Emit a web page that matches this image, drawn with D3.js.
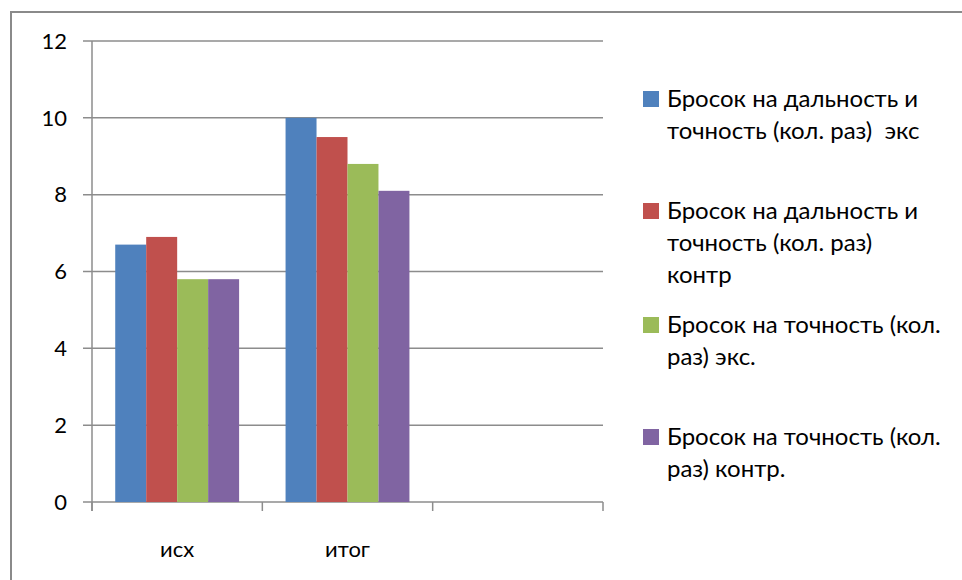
<!DOCTYPE html>
<html>
<head>
<meta charset="utf-8">
<script src="https://cdn.jsdelivr.net/npm/d3@7"></script>
<style>
  html, body { margin: 0; padding: 0; background: #fff; }
  svg { display: block; }
  text { font-family: Lato, "Open Sans", sans-serif; fill: #000; }
</style>
</head>
<body>
<svg id="chart" width="962" height="580"></svg>
<script>
// Categories on the x axis (the third slot is empty)
const categories = ["исх", "итог", ""];
// Series names
const seriesNames = [
  "Бросок на дальность и точность (кол. раз)  экс",
  "Бросок на дальность и точность (кол. раз) контр",
  "Бросок на точность (кол. раз) экс.",
  "Бросок на точность (кол. раз) контр."
];
// Legend label lines as wrapped in the legend
const legendLines = [
  ["Бросок на дальность и", "точность (кол. раз)  экс"],
  ["Бросок на дальность и", "точность (кол. раз)", "контр"],
  ["Бросок на точность (кол.", "раз) экс."],
  ["Бросок на точность (кол.", "раз) контр."]
];
// Values per series, one per category (исх, итог)
const seriesA = [6.7, 10.0];
const seriesB = [6.9, 9.5];
const seriesC = [5.8, 8.8];
const seriesD = [5.8, 8.1];
const seriesValues = [seriesA, seriesB, seriesC, seriesD];
const colors = ["#4f81bd", "#c0504d", "#9bbb59", "#8064a2"];
const yTicks = [0, 2, 4, 6, 8, 10, 12];

const svg = d3.select("#chart");

// outer chart frame
svg.append("rect")
  .attr("x", 11).attr("y", 12)
  .attr("width", 1000).attr("height", 1000)
  .attr("fill", "none")
  .attr("stroke", "#8a8a8a")
  .attr("stroke-width", 2);

const plot = { left: 92, right: 603, top: 41, bottom: 502 };

const x = d3.scaleBand()
  .domain(d3.range(categories.length))
  .range([plot.left, plot.right])
  .paddingInner(0)
  .paddingOuter(0);

const x1 = d3.scaleBand()
  .domain(d3.range(seriesNames.length))
  .range([0, x.bandwidth()])
  .paddingOuter(0.75)   // 150% gap split on both sides
  .paddingInner(0);

const y = d3.scaleLinear().domain([0, 12]).range([plot.bottom, plot.top]);

// horizontal gridlines
svg.append("g")
  .selectAll("line")
  .data(yTicks)
  .join("line")
  .attr("x1", plot.left - 9)
  .attr("x2", plot.right)
  .attr("y1", d => y(d))
  .attr("y2", d => y(d))
  .attr("stroke", "#8c8c8c")
  .attr("stroke-width", 1.5);

// y axis line
svg.append("line")
  .attr("x1", plot.left).attr("x2", plot.left)
  .attr("y1", plot.top).attr("y2", plot.bottom + 9)
  .attr("stroke", "#8c8c8c").attr("stroke-width", 1.5);

// x-axis category tick marks
svg.append("g")
  .selectAll("line")
  .data(d3.range(categories.length + 1))
  .join("line")
  .attr("x1", i => i < categories.length ? x(i) : x(categories.length - 1) + x.bandwidth())
  .attr("x2", i => i < categories.length ? x(i) : x(categories.length - 1) + x.bandwidth())
  .attr("y1", plot.bottom)
  .attr("y2", plot.bottom + 9)
  .attr("stroke", "#8c8c8c").attr("stroke-width", 1.5);

// y tick labels
svg.append("g")
  .selectAll("text")
  .data(yTicks)
  .join("text")
  .attr("x", 67)
  .attr("y", d => y(d))
  .attr("dy", "0.35em")
  .attr("text-anchor", "end")
  .attr("font-size", 22)
  .text(d => d);

// bars
seriesValues.forEach((vals, s) => {
  svg.append("g")
    .selectAll("rect")
    .data(vals)
    .join("rect")
    .attr("x", (d, i) => x(i) + x1(s))
    .attr("width", x1.bandwidth())
    .attr("y", d => y(d))
    .attr("height", d => y(0) - y(d))
    .attr("fill", colors[s]);
});

// category labels
svg.append("g")
  .selectAll("text")
  .data(categories)
  .join("text")
  .attr("x", (d, i) => x(i) + x.bandwidth() / 2)
  .attr("y", 549)
  .attr("dy", "0.35em")
  .attr("text-anchor", "middle")
  .attr("font-size", 22)
  .text(d => d);

// legend
const legendTops = [91, 203, 317, 429];
const legend = svg.append("g");
legendLines.forEach((lines, s) => {
  const g = legend.append("g").attr("transform", `translate(643,${legendTops[s]})`);
  g.append("rect").attr("width", 16).attr("height", 16).attr("fill", colors[s]);
  lines.forEach((ln, k) => {
    g.append("text")
      .attr("x", 24)
      .attr("y", 8 + k * 32)
      .attr("dy", "0.35em")
      .attr("font-size", 24)
      .attr("xml:space", "preserve")
      .style("white-space", "pre")
      .text(ln);
  });
});
</script>
</body>
</html>
